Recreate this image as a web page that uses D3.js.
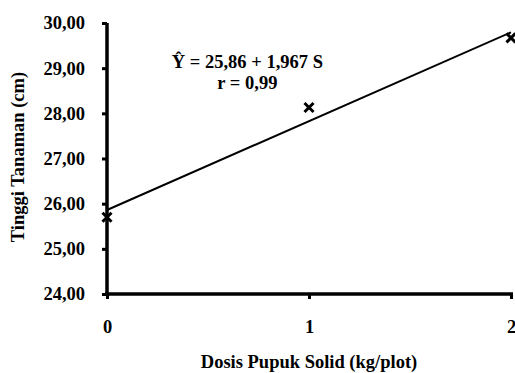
<!DOCTYPE html>
<html>
<head>
<meta charset="utf-8">
<script src="https://cdn.jsdelivr.net/npm/d3@7"></script>
<style>
  body { margin: 0; background: #fff; }
  svg text { font-family: "Times New Roman", "Liberation Serif", serif; font-weight: bold; fill: #000; }
</style>
</head>
<body>
<div id="chart"></div>
<script>
// data
var doses = [0, 1, 2];
var heights = [25.70, 28.13, 29.67];
var yTicks = [24, 25, 26, 27, 28, 29, 30];
var intercept = 25.86, slope = 1.967;

var outerWidth = 515, outerHeight = 373;
var margin = {top: 23, right: 4, bottom: 79, left: 107},
    width = outerWidth - margin.left - margin.right,
    height = outerHeight - margin.top - margin.bottom;

var svg = d3.select("#chart")
    .append("svg")
    .attr("width", outerWidth)
    .attr("height", outerHeight)
    .append("g")
    .attr("transform", "translate(" + margin.left + "," + margin.top + ")");

var xScale = d3.scaleLinear().domain([0, 2]).range([0, width]);
var yScale = d3.scaleLinear().domain([24, 30]).range([height, 0]);

var fmt = function(d) { return d3.format(".2f")(d).replace(".", ","); };

// y axis
var yAxis = svg.append("g")
    .attr("class", "axis y-axis")
    .call(d3.axisLeft(yScale).tickValues(yTicks).tickFormat(fmt).tickSize(5).tickPadding(17));
yAxis.attr("font-family", null);
yAxis.select(".domain").attr("stroke-width", 3.5).attr("d", "M0," + (height + 2) + "V0");
yAxis.selectAll(".tick line").attr("stroke-width", 3);
yAxis.selectAll(".tick text").style("font-size", "18.5px");

// x axis
var xAxis = svg.append("g")
    .attr("class", "axis x-axis")
    .attr("transform", "translate(0," + height + ")")
    .call(d3.axisBottom(xScale).tickValues(doses).tickFormat(d3.format("d")).tickSize(5).tickPadding(21));
xAxis.attr("font-family", null);
xAxis.select(".domain").attr("stroke-width", 3.5).attr("d", "M-2,0H" + (width + 2));
xAxis.selectAll(".tick line").attr("stroke-width", 3);
xAxis.selectAll(".tick text").style("font-size", "18.5px");

// regression line
var line = d3.line()
    .x(function(d) { return xScale(d); })
    .y(function(d) { return yScale(intercept + slope * d); });

svg.append("path")
    .datum([0, 2])
    .attr("d", line)
    .attr("fill", "none")
    .attr("stroke", "#000")
    .attr("stroke-width", 2);

// observed points as x markers
var cross = d3.symbol().type(d3.symbolX).size(55);
svg.selectAll(".point")
    .data(doses)
    .enter()
    .append("path")
    .attr("class", "point")
    .attr("transform", function(d, i) { return "translate(" + xScale(d) + "," + yScale(heights[i]) + ")"; })
    .attr("d", cross)
    .attr("fill", "none")
    .attr("stroke", "#000")
    .attr("stroke-width", 3);

// equation
svg.append("text")
    .attr("x", xScale(0.695)).attr("y", 45)
    .attr("text-anchor", "middle")
    .style("font-size", "18.5px")
    .text("Ŷ = 25,86 + 1,967 S");
svg.append("text")
    .attr("x", xScale(0.695)).attr("y", 66)
    .attr("text-anchor", "middle")
    .style("font-size", "18.5px")
    .text("r = 0,99");

// axis titles
svg.append("text")
    .attr("x", width / 2).attr("y", height + 74)
    .attr("text-anchor", "middle")
    .style("font-size", "18.5px")
    .text("Dosis Pupuk Solid (kg/plot)");

svg.append("text")
    .attr("transform", "translate(" + (-83) + "," + (height / 2 - 1.5) + ") rotate(-90)")
    .attr("text-anchor", "middle")
    .style("font-size", "18.5px")
    .text("Tinggi Tanaman (cm)");
</script>
</body>
</html>
